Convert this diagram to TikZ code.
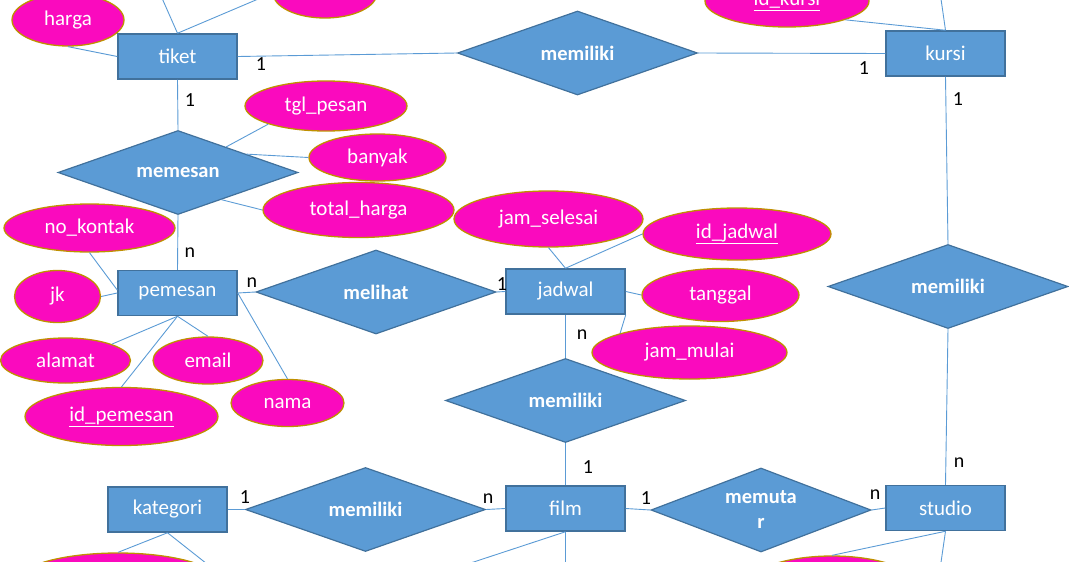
\documentclass[tikz,border=0pt]{standalone}
\usepackage{fontspec}
\setmainfont{Carlito}
\usetikzlibrary{shapes.geometric}
\definecolor{entF}{HTML}{5B9BD5}
\definecolor{entB}{HTML}{41719C}
\definecolor{attF}{RGB}{250,10,190}
\definecolor{attB}{HTML}{BF9000}
\definecolor{lineC}{HTML}{5B9BD5}
\begin{document}
\begin{tikzpicture}[x=1pt,y=-1pt,
 entity/.style={rectangle,draw=entB,fill=entF,line width=1.5pt,text=white,minimum width=119pt,minimum height=45pt,inner sep=0pt,font=\fontsize{21}{23}\selectfont},
 rel/.style={diamond,aspect=2.6,draw=entB,fill=entF,line width=1.2pt,text=white,inner sep=0pt,minimum width=240pt,minimum height=84pt,font=\fontsize{20.5}{25}\selectfont\bfseries},
 attr/.style={ellipse,draw=attB,fill=attF,line width=1.3pt,text=white,inner sep=0pt,font=\fontsize{21}{23}\selectfont},
 conn/.style={draw=lineC,line width=0.9pt},
 card/.style={font=\fontsize{20}{22}\selectfont,text=black,inner sep=0pt}]
\useasboundingbox (0,0) rectangle (1069,562);
\clip (0,0) rectangle (1069,562);
% entities
\node[entity] (tiket) at (177.5,56.5) {tiket};
\node[entity] (kursi) at (945.5,53.5) {kursi};
\node[entity] (pemesan) at (177.5,293) {pemesan};
\node[entity] (jadwal) at (565.5,291.5) {jadwal};
\node[entity] (kategori) at (167.5,509.5) {kategori};
\node[entity] (film) at (565.5,508.5) {film};
\node[entity] (studio) at (945.5,508) {studio};
% relationships
\node[rel] (mtop) at (577.5,53) {memiliki};
\node[rel] (memesan) at (178,172.5) {memesan};
\node[rel] (melihat) at (376,292) {melihat};
\node[rel] (mmid) at (565.5,400.5) {memiliki};
\node[rel] (mright) at (948,286.5) {memiliki};
\node[rel] (mbl) at (365.5,509.5) {memiliki};
\node[rel,minimum width=220pt,align=center] (memutar) at (761,510) {memuta\\r};
% attributes
\node[attr,minimum width=112pt,minimum height=52pt] (harga) at (68,20) {harga};
\node[attr,minimum width=104pt,minimum height=50pt] (topattr) at (325,-7) {};
\node[attr,minimum width=164pt,minimum height=52pt] (idkursi) at (787,1) {\underline{id\_kursi}};
\node[attr,minimum width=162pt,minimum height=50pt] (tgl) at (326,106) {tgl\_pesan};
\node[attr,minimum width=137pt,minimum height=47pt] (banyak) at (377.5,157.5) {banyak};
\node[attr,minimum width=191pt,minimum height=55pt] (total) at (358.5,210) {total\_harga};
\node[attr,minimum width=171pt,minimum height=48pt] (nokontak) at (89.5,228) {no\_kontak};
\node[attr,minimum width=86pt,minimum height=52pt] (jk) at (57.5,296.5) {jk};
\node[attr,minimum width=130pt,minimum height=45pt] (alamat) at (65.5,360.5) {alamat};
\node[attr,minimum width=110pt,minimum height=47pt] (email) at (208,360.5) {email};
\node[attr,minimum width=193pt,minimum height=58pt] (idpemesan) at (121.5,416.5) {\underline{id\_pemesan}};
\node[attr,minimum width=113pt,minimum height=47pt] (nama) at (287.5,403) {nama};
\node[attr,minimum width=189pt,minimum height=56pt] (jamselesai) at (548.5,219) {jam\_selesai};
\node[attr,minimum width=188pt,minimum height=52pt] (idjadwal) at (737,234) {\underline{id\_jadwal}};
\node[attr,minimum width=157pt,minimum height=53pt] (tanggal) at (720.5,295) {tanggal};
\node[attr,minimum width=195pt,minimum height=53pt] (jammulai) at (689.5,352.5) {jam\_mulai};
\node[attr,minimum width=206pt,minimum height=60pt] (katattr) at (118,583) {};
\node[attr,minimum width=180pt,minimum height=68pt] (stattr) at (832,590) {};
% off-picture ends
\coordinate (offT) at (154,-20);
\coordinate (offK) at (939,-15);
\coordinate (offKat) at (240,590);
\coordinate (offF1) at (419,580);
\coordinate (offF2) at (565.5,580);
\coordinate (offS) at (937,590);
% relationship connectors
\draw[conn] (tiket.east) -- (mtop.west);
\draw[conn] (mtop.east) -- (kursi.west);
\draw[conn] (tiket.south) -- (memesan.north);
\draw[conn] (memesan.south) -- (pemesan.north);
\draw[conn] (pemesan.east) -- (melihat.west);
\draw[conn] (melihat.east) -- (jadwal.west);
\draw[conn] (jadwal.south) -- (mmid.north);
\draw[conn] (mmid.south) -- (film.north);
\draw[conn] (kategori.east) -- (mbl.west);
\draw[conn] (mbl.east) -- (film.west);
\draw[conn] (film.east) -- (memutar.west);
\draw[conn] (memutar.east) -- (studio.west);
\draw[conn] (kursi.south) -- (mright.north);
\draw[conn] (mright.south) -- (studio.north);
% attribute connectors
\draw[conn] (harga.south) -- (tiket.west);
\draw[conn] (tiket.north) -- (topattr.west);
\draw[conn] (tiket.north) -- (offT);
\draw[conn] (kursi.north) -- (idkursi.south east);
\draw[conn] (kursi.north) -- (offK);
\draw[conn] (memesan.28) -- (tgl.south west);
\draw[conn] (memesan.15) -- (banyak.west);
\draw[conn] (memesan.-32) -- (total.west);
\draw[conn] (nokontak.south) -- ([yshift=3pt]pemesan.west);
\draw[conn] (jk.east) -- (pemesan.west);
\draw[conn] (alamat.north east) -- (pemesan.south);
\draw[conn] (email.north) -- (pemesan.south);
\draw[conn] (idpemesan.north) -- (pemesan.south);
\draw[conn] (pemesan.east) -- (nama.north);
\draw[conn] (jamselesai.south) -- (jadwal.north);
\draw[conn] (jadwal.north) -- (idjadwal.west);
\draw[conn] (jadwal.east) -- (tanggal.west);
\draw[conn] (jadwal.south east) -- (jammulai.north west);
\draw[conn] (kategori.south) -- (katattr.north);
\draw[conn] (kategori.south) -- (offKat);
\draw[conn] (film.south) -- (offF1);
\draw[conn] (film.south) -- (offF2);
\draw[conn] (studio.south) -- (stattr.north);
\draw[conn] (studio.south) -- (offS);
% cardinalities
\node[card] (c1) at (261,64) {1};
\node[card] (c2) at (864,68) {1};
\node[card] (c3) at (190,100) {1};
\node[card] (c4) at (190,253) {n};
\node[card] (c5) at (252,283) {n};
\node[card] (c6) at (502,284) {1};
\node[card] (c7) at (582,335) {n};
\node[card] (c8) at (588,467) {1};
\node[card] (c9) at (245,497) {1};
\node[card] (c10) at (488,499) {n};
\node[card] (c11) at (646,498) {1};
\node[card] (c12) at (875,495) {n};
\node[card] (c13) at (958,99) {1};
\node[card] (c14) at (959,463) {n};
\end{tikzpicture}
\end{document}
